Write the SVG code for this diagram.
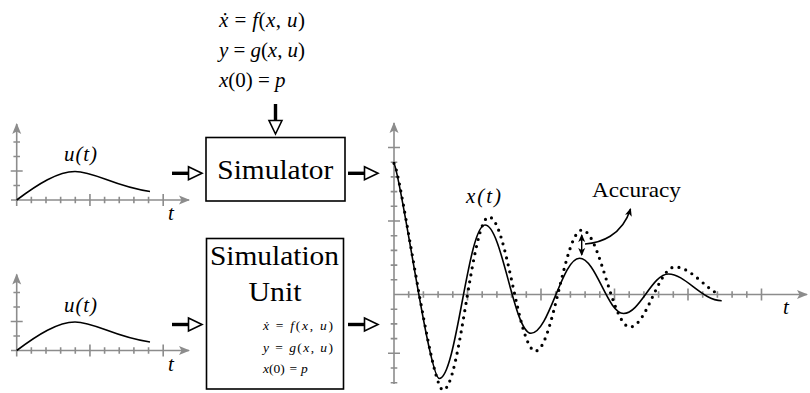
<svg xmlns="http://www.w3.org/2000/svg" xmlns:xlink="http://www.w3.org/1999/xlink" width="810" height="393" viewBox="0 0 810 393" font-family="Liberation Serif, DejaVu Serif, serif">
<style>
.ax{stroke:#8c8c8c;stroke-width:1.6;fill:none}
.tk{stroke:#8c8c8c;stroke-width:1.6;fill:none}
.crv{stroke:#000;stroke-width:1.6;fill:none}
.dot{stroke:#000;stroke-width:3.2;fill:none;stroke-linecap:round;stroke-dasharray:0 7.2}
.box{fill:#fff;stroke:#000;stroke-width:1.6}
.txt{fill:#000}
.i{font-style:italic}
</style>
<defs>
<marker id="axArrow" markerUnits="userSpaceOnUse" markerWidth="14" markerHeight="12" viewBox="-12 -6 14 12" refX="0" refY="0" orient="auto">
<path d="M1,0 L-10,-4.5 L-7.5,0 L-10,4.5 z" fill="#8c8c8c"/>
</marker>
<marker id="blk" markerUnits="userSpaceOnUse" markerWidth="12" markerHeight="10" viewBox="-10 -5 12 10" refX="0" refY="0" orient="auto-start-reverse">
<path d="M1,0 L-7,-3.5 L-5,0 L-7,3.5 z" fill="#000"/>
</marker>
<g id="blockArrow">
<line x1="0" y1="0" x2="17" y2="0" stroke="#000" stroke-width="3.4"/>
<polygon points="16.5,-6.5 30,0 16.5,6.5" fill="#fff" stroke="#000" stroke-width="1.6" stroke-linejoin="miter"/>
</g>
<g id="inputPlot">
<path class="ax" d="M16.7,206 V124" marker-end="url(#axArrow)"/>
<path class="ax" d="M11,200 H189" marker-end="url(#axArrow)"/>
<path class="tk" d="M31.35,196.7v6.6M46,196.7v6.6M60.65,196.7v6.6M75.3,196.7v6.6M104.6,196.7v6.6M119.25,196.7v6.6M133.9,196.7v6.6M148.55,196.7v6.6M13.4,185.5h6.6M13.4,156.5h6.6M13.4,142h6.6"/>
<path class="tk" d="M89.95,194v12M163.2,194v12M10.7,171h12"/>
<path class="crv" d="M16.7,200 C38,184 58,171.5 75,171.5 C95,171.5 115,187 150,191.5"/>
<text class="txt i" font-family="Liberation Serif, DejaVu Serif, serif" x="64" y="161" font-size="21" textLength="33" lengthAdjust="spacing">u(t)</text>
<text class="txt i" font-family="Liberation Serif, DejaVu Serif, serif" x="171" y="220" font-size="21" text-anchor="middle">t</text>
</g>
</defs>

<g id="input-top"><use xlink:href="#inputPlot" href="#inputPlot"/></g>
<g id="input-bottom"><use xlink:href="#inputPlot" href="#inputPlot" transform="translate(0,150.5)"/></g>

<g id="equations" font-family="Liberation Serif, DejaVu Serif, serif">
<text class="txt" x="219" y="27" font-size="21" textLength="86" lengthAdjust="spacing"><tspan class="i">ẋ</tspan> = <tspan class="i">f</tspan>(<tspan class="i">x</tspan>, <tspan class="i">u</tspan>)</text>
<text class="txt" x="219" y="57" font-size="21" textLength="86" lengthAdjust="spacing"><tspan class="i">y</tspan> = <tspan class="i">g</tspan>(<tspan class="i">x</tspan>, <tspan class="i">u</tspan>)</text>
<text class="txt" x="219" y="87" font-size="21"><tspan class="i">x</tspan>(0)<tspan x="258">=</tspan><tspan class="i" x="275">p</tspan></text>
</g>

<g id="simulator" font-family="Liberation Serif, DejaVu Serif, serif">
<rect class="box" x="206" y="137.5" width="139" height="63.5"/>
<text class="txt" x="217.3" y="179" font-size="27" textLength="116" lengthAdjust="spacingAndGlyphs">Simulator</text>
</g>

<g id="simulation-unit" font-family="Liberation Serif, DejaVu Serif, serif">
<rect class="box" x="206.5" y="238.5" width="137" height="150.5"/>
<text class="txt" x="210" y="265" font-size="27" textLength="129" lengthAdjust="spacingAndGlyphs">Simulation</text>
<text class="txt" x="248.5" y="301" font-size="27" textLength="53" lengthAdjust="spacingAndGlyphs">Unit</text>
<text class="txt" x="263" y="330" font-size="13.5" textLength="70" lengthAdjust="spacing"><tspan class="i">ẋ</tspan> = <tspan class="i">f</tspan>(<tspan class="i">x</tspan>, <tspan class="i">u</tspan>)</text>
<text class="txt" x="263" y="351.5" font-size="13.5" textLength="70" lengthAdjust="spacing"><tspan class="i">y</tspan> = <tspan class="i">g</tspan>(<tspan class="i">x</tspan>, <tspan class="i">u</tspan>)</text>
<text class="txt" x="263" y="373" font-size="13.5"><tspan class="i">x</tspan>(0)<tspan x="289.5">=</tspan><tspan class="i" x="301">p</tspan></text>
</g>

<g id="output-plot" font-family="Liberation Serif, DejaVu Serif, serif">
<path class="ax" d="M394,384 V123" marker-end="url(#axArrow)"/>
<path class="ax" d="M394,294.5 H807" marker-end="url(#axArrow)"/>
<path class="tk" d="M408.7,291.2v6.6M423.4,291.2v6.6M438.1,291.2v6.6M452.8,291.2v6.6M482.2,291.2v6.6M496.9,291.2v6.6M511.6,291.2v6.6M526.3,291.2v6.6M555.7,291.2v6.6M570.4,291.2v6.6M585.1,291.2v6.6M599.8,291.2v6.6M629.2,291.2v6.6M643.9,291.2v6.6M658.6,291.2v6.6M673.3,291.2v6.6M702.7,291.2v6.6M717.4,291.2v6.6M732.1,291.2v6.6M746.8,291.2v6.6"/>
<path class="tk" d="M467.5,288.5v12M541,288.5v12M614.5,288.5v12M688,288.5v12M761.5,288.5v12"/>
<path class="tk" d="M390.7,279.8h6.6M390.7,265.1h6.6M390.7,250.4h6.6M390.7,235.7h6.6M390.7,206.3h6.6M390.7,191.6h6.6M390.7,176.9h6.6M390.7,162.2h6.6M390.7,309.2h6.6M390.7,323.9h6.6M390.7,338.6h6.6M390.7,368h6.6M390.7,382.7h6.6"/>
<path class="tk" d="M388,221h12M388,147.5h12M388,353.3h12"/>
<path class="crv" d="M394,163.3 C401,175 429,378.5 439.3,378.5 C456.2,378.5 468.1,225 485,225 C502,225 514,333.3 531,333.3 C549,333.3 562,258.3 579.5,258.3 C596,258.3 607.5,313.5 623.5,313.5 C640,313.5 652,274 668.5,274 C685.5,274 702,300.7 721.7,300.7"/>
<path class="dot" d="M394,163.3 C401,172 431,390 443,390 C460,390 472,217 489,217 C506.5,217 518.5,351 535.5,351 C552.5,351 565,230 582,230 C599.5,230 612.5,327 630,327 C646.5,327 658.5,267 675,267 C692,267 708,292 720,294"/>
<text class="txt i" x="466" y="203" font-size="21" textLength="35" lengthAdjust="spacing">x(t)</text>
<text class="txt i" x="786" y="314" font-size="21" text-anchor="middle">t</text>
</g>

<g id="accuracy" font-family="Liberation Serif, DejaVu Serif, serif">
<text class="txt" x="592" y="197" font-size="21" textLength="89" lengthAdjust="spacingAndGlyphs">Accuracy</text>
</g>

<g id="connectors">
<use xlink:href="#blockArrow" href="#blockArrow" transform="translate(172,173.3)"/>
<use xlink:href="#blockArrow" href="#blockArrow" transform="translate(348,173.3)"/>
<use xlink:href="#blockArrow" href="#blockArrow" transform="translate(172,324.5)"/>
<use xlink:href="#blockArrow" href="#blockArrow" transform="translate(348,324.5)"/>
<use xlink:href="#blockArrow" href="#blockArrow" transform="translate(275.5,104) rotate(90)"/>
<path d="M581.7,235 V255" stroke="#000" stroke-width="1.4" fill="none" marker-start="url(#blk)" marker-end="url(#blk)"/>
<path d="M585,244 C600,243 622,236 630.5,209" stroke="#000" stroke-width="1.6" fill="none" marker-end="url(#blk)"/>
</g>
</svg>
